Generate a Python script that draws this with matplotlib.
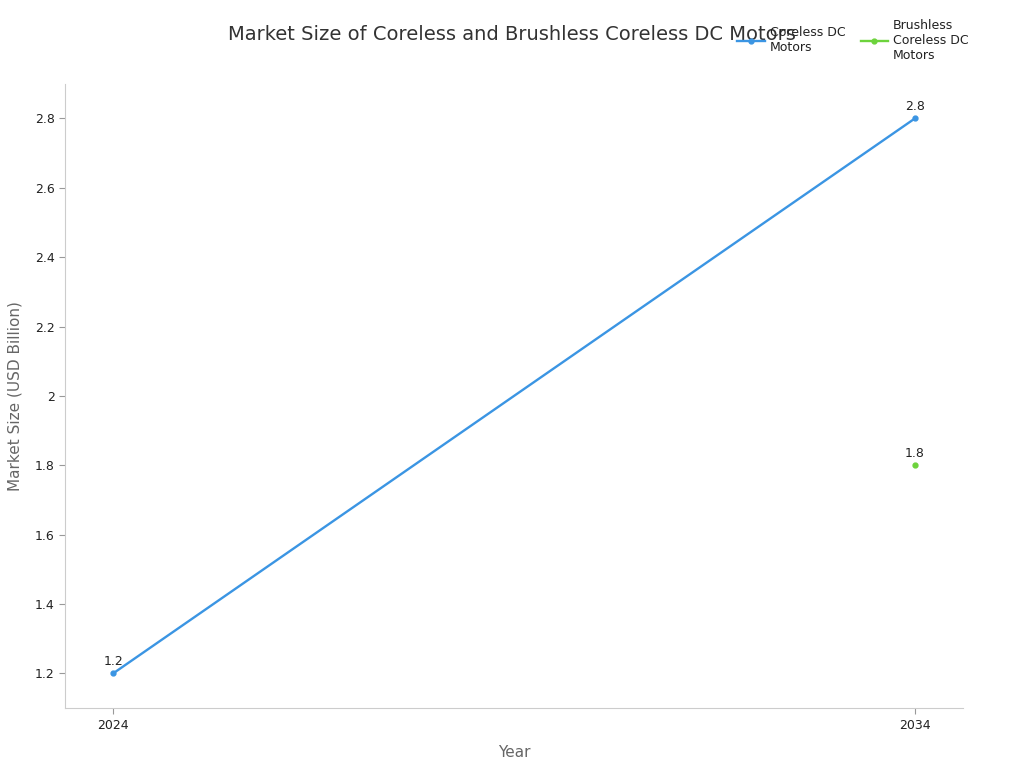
import numpy as np
import matplotlib
matplotlib.use('Agg')
import matplotlib.pyplot as plt
from matplotlib.ticker import FuncFormatter

# data
years = ['2024', '2034']
coreless = [1.2, 2.8]
brushless = [np.nan, 1.8]
series_names = ['Coreless DC\nMotors', 'Brushless\nCoreless DC\nMotors']
colors = ['#3b95e3', '#6dd33c']

plt.rcParams['font.family'] = ['DejaVu Sans']

fig = plt.figure(figsize=(10.24, 7.68), dpi=100)
ax = fig.add_axes([0.0635, 0.078, 0.8770, 0.813])

x = np.arange(len(years))
for vals, name, col in zip([coreless, brushless], series_names, colors):
    ax.plot(x, vals, color=col, lw=1.7, marker='o', ms=3.5, label=name)
    for xi, v in zip(x, vals):
        if not np.isnan(v):
            ax.annotate(f'{v:g}', (xi, v), xytext=(0, 4), textcoords='offset points',
                        ha='center', va='bottom', fontsize=9, color='#222222')

ax.set_xlim(-0.06, 1.06)
ax.set_ylim(1.1, 2.9)
ax.set_xticks(x)
ax.set_xticklabels(years)
ax.set_yticks(np.arange(1.2, 2.81, 0.2))
ax.yaxis.set_major_formatter(FuncFormatter(lambda v, p: f'{round(v, 2):g}'))

for s in ['top', 'right']:
    ax.spines[s].set_visible(False)
for s in ['left', 'bottom']:
    ax.spines[s].set_color('#cccccc')
ax.tick_params(colors='#222222', labelsize=9, length=4)
ax.tick_params(axis='both', color='#999999')

ax.set_xlabel('Year', fontsize=11, color='#666666', labelpad=10)
ax.set_ylabel('Market Size (USD Billion)', fontsize=11, color='#666666', labelpad=9)

fig.suptitle('Market Size of Coreless and Brushless Coreless DC Motors',
             x=0.50, y=0.968, fontsize=14, color='#333333')

fig.legend(loc='upper right', bbox_to_anchor=(0.957, 0.99), ncol=2, frameon=False,
           fontsize=9, handlelength=2.2, columnspacing=1.2, handletextpad=0.4,
           labelcolor='#222222')

fig.savefig('out.png', dpi=100)
